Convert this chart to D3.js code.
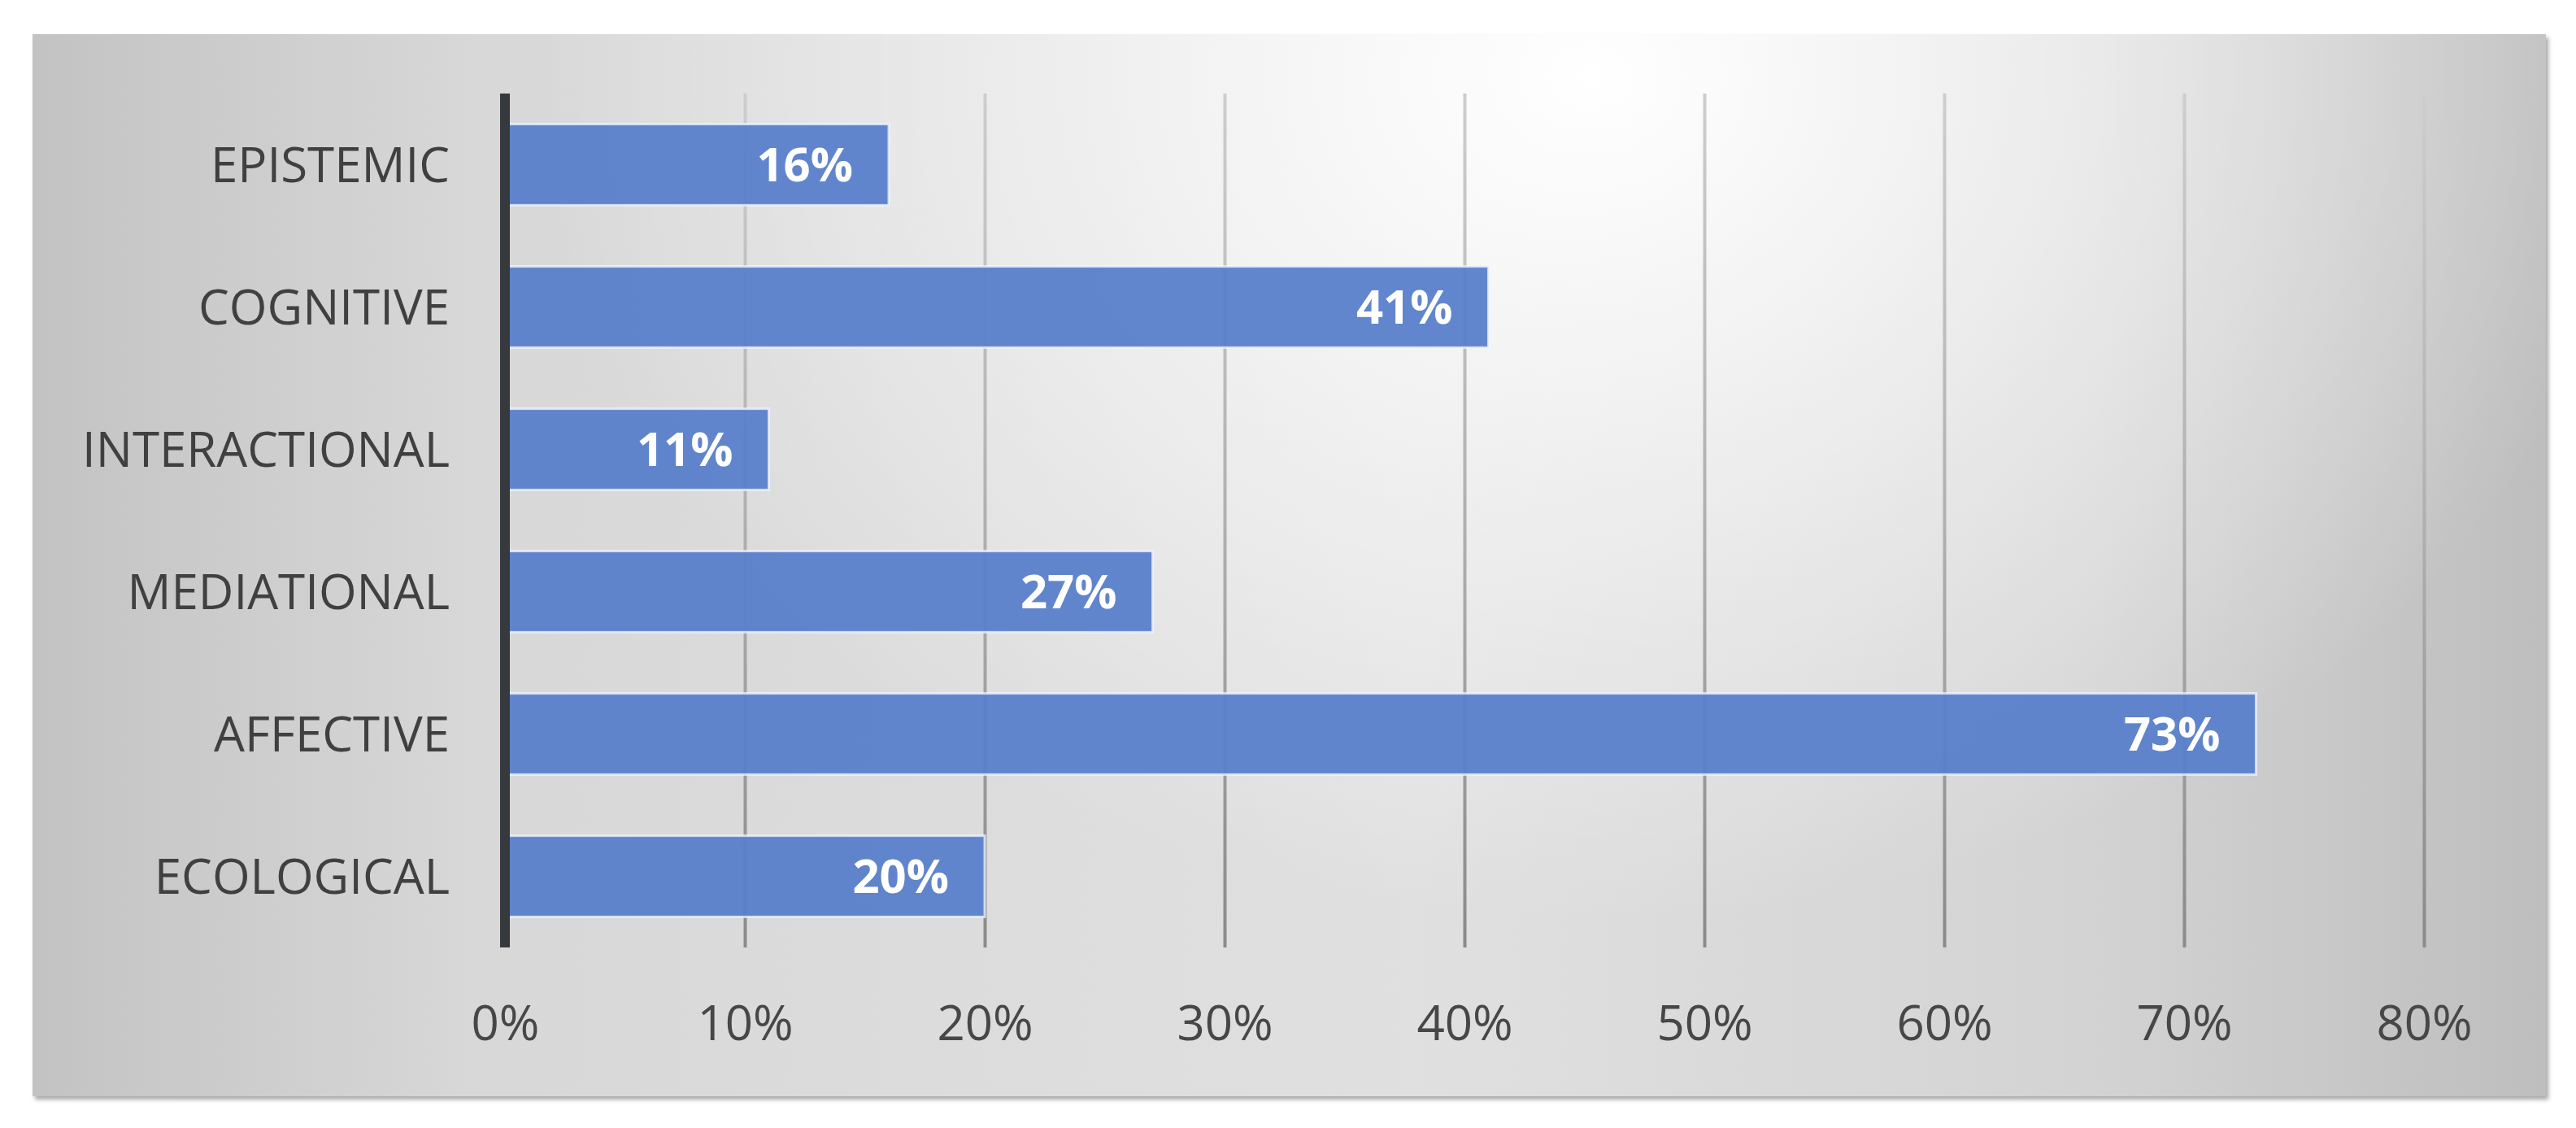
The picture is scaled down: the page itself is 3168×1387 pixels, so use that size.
<!DOCTYPE html>
<html>
<head>
<meta charset="utf-8">
<script src="https://cdn.jsdelivr.net/npm/d3@7"></script>
<style>
  html, body { margin: 0; padding: 0; background: #ffffff; }
  svg { display: block; }
</style>
</head>
<body>
<div id="chart"></div>
<script>
   // chart data, top to bottom
   var categories = ["EPISTEMIC", "COGNITIVE", "INTERACTIONAL", "MEDIATIONAL", "AFFECTIVE", "ECOLOGICAL"];
   var shares = [16, 41, 11, 27, 73, 20];
   var tickValues = [0, 10, 20, 30, 40, 50, 60, 70, 80];
   var tickLabels = ["0%", "10%", "20%", "30%", "40%", "50%", "60%", "70%", "80%"];

   var width = 3168, height = 1387;
   var panel = {x: 40, y: 42, w: 3091, h: 1306};
   var margin = {top: 115, left: 621, right: 187, bottom: 222};
   var plotW = width - margin.left - margin.right;
   var plotH = height - margin.top - margin.bottom;

   var svg = d3.select("#chart").append("svg")
      .attr("width", width)
      .attr("height", height);

   var defs = svg.append("defs");

   var bgGrad = defs.append("linearGradient")
      .attr("id", "bgGrad")
      .attr("x1", 0).attr("y1", 0).attr("x2", 1).attr("y2", 0);
   [[0, "#c3c3c3"], [0.18, "#d8d8d8"], [0.55, "#e0e0e0"], [0.82, "#d3d3d3"], [1, "#bebebe"]]
      .forEach(function(s) {
         bgGrad.append("stop").attr("offset", s[0]).attr("stop-color", s[1]);
      });

   var glow = defs.append("radialGradient")
      .attr("id", "glow")
      .attr("cx", 0.62).attr("cy", 0.04).attr("r", 0.42)
      .attr("gradientTransform", "translate(0.62,0.04) scale(1,1.9) translate(-0.62,-0.04)");
   [[0, "#ffffff", 1], [0.4, "#ffffff", 0.6], [1, "#ffffff", 0]]
      .forEach(function(s) {
         glow.append("stop").attr("offset", s[0]).attr("stop-color", s[1]).attr("stop-opacity", s[2]);
      });

   // gridlines fade towards the top
   var gridGrad = defs.append("linearGradient")
      .attr("id", "gridGrad")
      .attr("gradientUnits", "userSpaceOnUse")
      .attr("x1", 0).attr("y1", 0).attr("x2", 0).attr("y2", plotH);
   gridGrad.append("stop").attr("offset", 0).attr("stop-color", "#cdcdcd");
   gridGrad.append("stop").attr("offset", 0.5).attr("stop-color", "#b0b0b0");
   gridGrad.append("stop").attr("offset", 1).attr("stop-color", "#8a8a8a");

   var shadow = defs.append("filter").attr("id", "shadow")
      .attr("x", -0.02).attr("y", -0.02).attr("width", 1.04).attr("height", 1.04);
   shadow.append("feGaussianBlur").attr("stdDeviation", 2.5);

   // panel with soft shadow
   svg.append("rect")
      .attr("x", panel.x + 3).attr("y", panel.y + 4)
      .attr("width", panel.w).attr("height", panel.h)
      .attr("fill", "#a8a8a8")
      .attr("filter", "url(#shadow)");
   svg.append("rect")
      .attr("x", panel.x).attr("y", panel.y)
      .attr("width", panel.w).attr("height", panel.h)
      .attr("fill", "url(#bgGrad)");
   svg.append("rect")
      .attr("x", panel.x).attr("y", panel.y)
      .attr("width", panel.w).attr("height", panel.h)
      .attr("fill", "url(#glow)");

   var x = d3.scaleLinear().domain([0, 80]).range([0, 2360]);
   var y = d3.scaleBand().domain(categories).range([0, plotH]).paddingInner(0.43).paddingOuter(0.215);

   var g = svg.append("g").attr("transform", "translate(" + margin.left + "," + margin.top + ")");

   // vertical gridlines
   var grid = g.append("g")
      .attr("class", "grid")
      .call(d3.axisBottom(x).tickValues(tickValues.slice(1)).tickSize(plotH).tickFormat(""));
   grid.select(".domain").remove();
   grid.selectAll("line")
      .attr("stroke", "url(#gridGrad)")
      .attr("stroke-width", 4);

   // bars
   g.selectAll("rect.bar")
      .data(categories)
      .enter()
      .append("rect")
      .attr("class", "bar")
      .attr("x", 0)
      .attr("y", function(d) { return y(d); })
      .attr("width", function(d, i) { return x(shares[i]); })
      .attr("height", y.bandwidth())
      .attr("fill", "#5a7fca")
      .attr("fill-opacity", 0.95)
      .attr("stroke", "#f2f7ff")
      .attr("stroke-opacity", 0.75)
      .attr("stroke-width", 3);

   // value labels inside bar end
   g.selectAll("text.val")
      .data(categories)
      .enter()
      .append("text")
      .attr("class", "val")
      .attr("x", function(d, i) { return x(shares[i]) - 44; })
      .attr("y", function(d) { return y(d) + y.bandwidth() / 2; })
      .attr("dy", "0.36em")
      .attr("text-anchor", "end")
      .attr("font-family", "'Open Sans', sans-serif")
      .attr("font-weight", "bold")
      .attr("font-size", 58)
      .attr("fill", "#ffffff")
      .text(function(d, i) { return shares[i] + "%"; });

   // category axis
   var yAxis = g.append("g")
      .call(d3.axisLeft(y).tickSize(0).tickPadding(68));
   yAxis.select(".domain").remove();
   yAxis.selectAll("text")
      .attr("font-family", "'Open Sans', sans-serif")
      .attr("font-size", 60)
      .attr("fill", "#404040")
      .attr("dy", "0.36em");

   g.append("line")
      .attr("x1", 0).attr("x2", 0)
      .attr("y1", 0).attr("y2", plotH)
      .attr("stroke", "#363a3e")
      .attr("stroke-width", 12);

   // value axis labels
   var xAxis = g.append("g")
      .attr("transform", "translate(0," + plotH + ")")
      .call(d3.axisBottom(x).tickValues(tickValues).tickSize(0).tickPadding(114)
         .tickFormat(function(d, i) { return tickLabels[i]; }));
   xAxis.select(".domain").remove();
   xAxis.selectAll("text")
      .attr("font-family", "'Open Sans', sans-serif")
      .attr("font-size", 60)
      .attr("fill", "#474747")
      .attr("dy", 0);
</script>
</body>
</html>
